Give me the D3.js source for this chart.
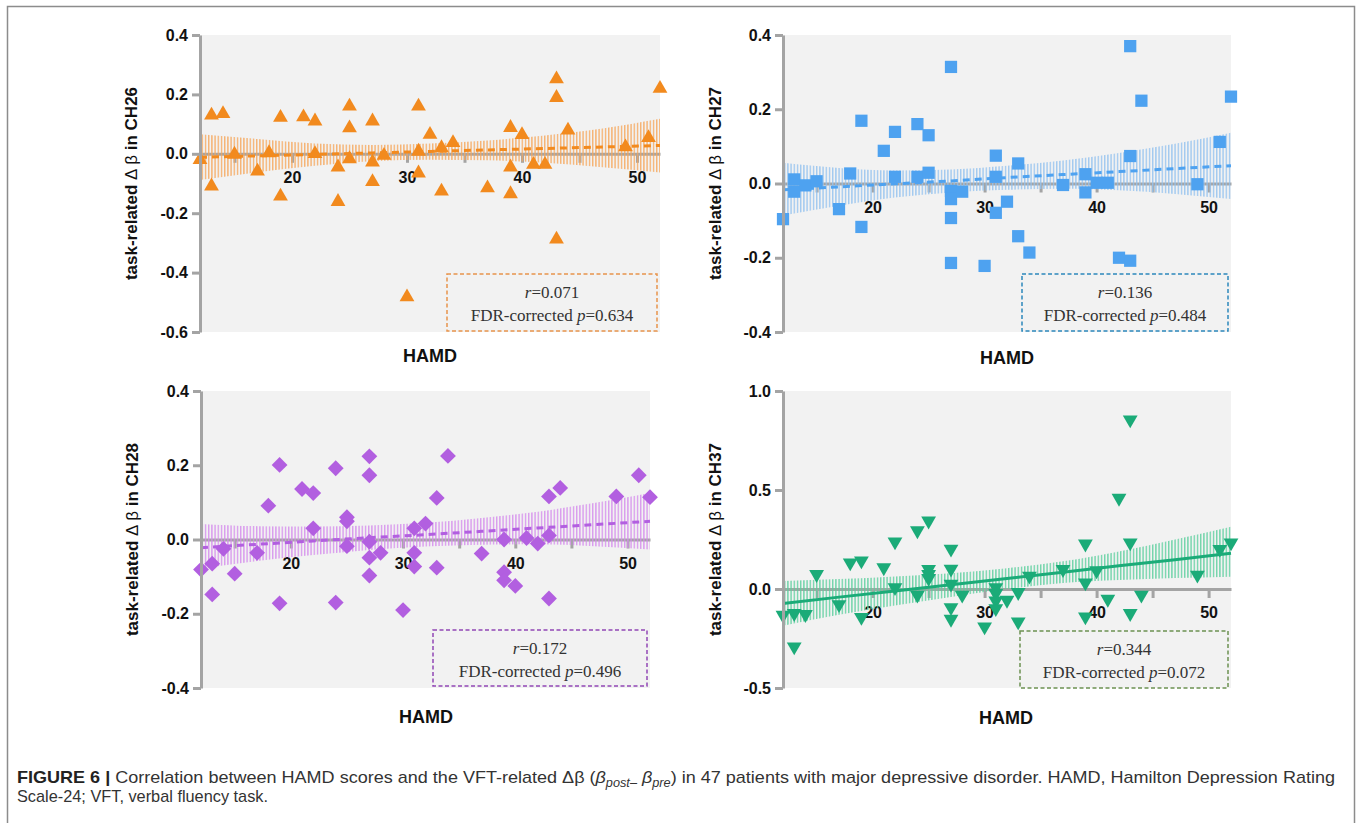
<!DOCTYPE html>
<html><head><meta charset="utf-8">
<script src="https://cdn.jsdelivr.net/npm/d3@7/dist/d3.min.js"></script>
<style>body{margin:0;background:#fff}svg{display:block}</style>
</head><body>
<svg id="c" width="1360" height="823"></svg>
<script>
// ---------- data ----------
const channels = ["CH26", "CH27", "CH28", "CH37"];
const xDomain = [12, 52];
const xTickValues = [15, 20, 25, 30, 35, 40, 45, 50];
const xTickLabels = [20, 30, 40, 50];
const bandX = [12, 17, 22, 27, 32, 37, 42, 47, 52];

const ch26X = [12,13,13,14,15,17,18,19,19,21,22,22,24,24,25,25,25,27,27,27,28,30,31,31,31,32,33,33,34,37,39,39,39,40,41,42,43,43,43,44,49,51,52];
const ch26Y = [-0.020,0.130,-0.109,0.135,-0.002,-0.059,0.003,0.122,-0.143,0.124,0.110,0.000,-0.045,-0.161,0.160,0.087,-0.017,0.110,-0.028,-0.094,-0.006,-0.482,0.160,0.008,-0.065,0.065,0.020,-0.126,0.037,-0.115,0.088,-0.045,-0.135,0.064,-0.036,-0.036,0.252,0.189,-0.288,0.079,0.023,0.054,0.220];
const ch26Fit = [-0.012,-0.007,-0.002,0.003,0.008,0.013,0.018,0.023,0.028];
const ch26Hi = [0.066,0.050,0.035,0.030,0.035,0.045,0.062,0.085,0.118];
const ch26Lo = [-0.088,-0.062,-0.040,-0.025,-0.020,-0.022,-0.030,-0.045,-0.063];
const ch26YTicks = [0.4, 0.2, 0.0, -0.2, -0.4, -0.6];

const ch27X = [12,13,13,14,15,17,18,19,19,21,22,22,24,24,25,25,27,27,27,27,27,28,30,31,31,31,32,33,33,34,37,39,39,40,41,42,43,43,43,44,49,51,52];
const ch27Y = [-0.096,0.011,-0.022,-0.005,0.006,-0.069,0.027,0.169,-0.117,0.088,0.139,0.018,0.160,0.018,0.130,0.029,0.314,-0.020,-0.042,-0.093,-0.214,-0.022,-0.222,0.075,0.018,-0.079,-0.049,0.054,-0.142,-0.186,-0.004,0.025,-0.024,0.002,0.002,-0.200,0.370,0.074,-0.208,0.223,-0.002,0.112,0.234];
const ch27Fit = [-0.017,-0.009,-0.001,0.007,0.016,0.024,0.032,0.040,0.048];
const ch27Hi = [0.056,0.042,0.035,0.038,0.048,0.062,0.082,0.107,0.137];
const ch27Lo = [-0.086,-0.060,-0.038,-0.024,-0.017,-0.014,-0.018,-0.028,-0.042];
const ch27YTicks = [0.4, 0.2, 0.0, -0.2, -0.4];

const ch28X = [12,13,13,14,15,17,18,19,19,21,22,22,24,24,25,25,25,27,27,27,27,27,28,30,31,31,31,32,33,33,34,37,39,39,39,40,41,42,43,43,43,44,49,51,52];
const ch28Y = [-0.081,-0.065,-0.148,-0.025,-0.092,-0.036,0.091,0.201,-0.172,0.136,0.125,0.030,0.192,-0.170,0.060,0.049,-0.018,0.224,0.173,-0.006,-0.049,-0.097,-0.036,-0.190,0.030,-0.036,-0.073,0.043,0.112,-0.076,0.225,-0.038,0.000,-0.088,-0.110,-0.125,0.004,-0.011,0.116,0.011,-0.159,0.139,0.116,0.173,0.114];
const ch28Fit = [-0.022,-0.013,-0.004,0.005,0.013,0.022,0.031,0.040,0.049];
const ch28Hi = [0.042,0.036,0.035,0.038,0.045,0.058,0.075,0.098,0.125];
const ch28Lo = [-0.078,-0.058,-0.042,-0.028,-0.019,-0.014,-0.013,-0.018,-0.027];
const ch28YTicks = [0.4, 0.2, 0.0, -0.2, -0.4];

const ch37X = [12,13,13,14,15,17,18,19,19,21,22,22,24,24,25,25,25,25,27,27,27,27,27,28,30,31,31,31,31,32,33,33,34,37,39,39,39,40,41,42,43,43,43,44,49,51,52];
const ch37Y = [-0.132,-0.123,-0.292,-0.128,0.074,-0.078,0.133,0.143,-0.143,0.108,0.239,0.008,0.295,-0.030,0.344,0.100,0.074,0.054,0.202,0.101,0.025,-0.093,-0.152,-0.030,-0.191,0.008,-0.022,-0.059,-0.098,-0.056,-0.017,-0.165,0.066,0.099,0.228,0.032,-0.140,0.093,-0.051,0.459,0.855,0.234,-0.123,-0.030,0.071,0.201,0.234];
const ch37Fit = [-0.073,-0.041,-0.010,0.022,0.053,0.085,0.117,0.148,0.180];
const ch37Hi = [0.040,0.050,0.063,0.080,0.105,0.140,0.190,0.250,0.315];
const ch37Lo = [-0.185,-0.130,-0.083,-0.040,0.000,0.030,0.045,0.055,0.062];
const ch37YTicks = [1.0, 0.5, 0.0, -0.5];

const statR = ["0.071", "0.136", "0.172", "0.344"];
const statP = ["0.634", "0.484", "0.496", "0.072"];

// ---------- layout / style ----------
const svg = d3.select("#c");
svg.append("rect").attr("x", 7.5).attr("y", 6.5).attr("width", 1347).attr("height", 860)
  .attr("fill", "none").attr("stroke", "#8c8c8c").attr("stroke-width", 1.5);

const panels = [
  {xs: ch26X, ys: ch26Y, fit: ch26Fit, hi: ch26Hi, lo: ch26Lo, yTicks: ch26YTicks, yDom: [-0.6, 0.4],
   x0: 200, x1: 660, yTop: 35, yBot: 332, sym: d3.symbolTriangle, rot: 0, size: 95,
   col: "#f28a1e", band: "#f6a75c", box: "#e8944c", dashed: true,
   bx: 447, by: 274, bw: 210, bh: 57, tx: 133, hx: 430, hy: 362},
  {xs: ch27X, ys: ch27Y, fit: ch27Fit, hi: ch27Hi, lo: ch27Lo, yTicks: ch27YTicks, yDom: [-0.4, 0.4],
   x0: 783, x1: 1231, yTop: 35, yBot: 332, sym: d3.symbolSquare, rot: 0, size: 150,
   col: "#4ea2f0", band: "#93c2ef", box: "#2c88bc", dashed: true,
   bx: 1022, by: 274, bw: 206, bh: 57, tx: 717, hx: 1007, hy: 364},
  {xs: ch28X, ys: ch28Y, fit: ch28Fit, hi: ch28Hi, lo: ch28Lo, yTicks: ch28YTicks, yDom: [-0.4, 0.4],
   x0: 201, x1: 650, yTop: 391, yBot: 688, sym: d3.symbolSquare, rot: 45, size: 125,
   col: "#b25fe0", band: "#d58cec", box: "#9147b5", dashed: true,
   bx: 433, by: 630, bw: 214, bh: 56, tx: 134, hx: 426, hy: 723},
  {xs: ch37X, ys: ch37Y, fit: ch37Fit, hi: ch37Hi, lo: ch37Lo, yTicks: ch37YTicks, yDom: [-0.5, 1.0],
   x0: 783, x1: 1231, yTop: 391, yBot: 688, sym: d3.symbolTriangle, rot: 180, size: 95,
   col: "#1bab78", band: "#5ccf9e", box: "#6c9152", dashed: false,
   bx: 1020, by: 631, bw: 208, bh: 57, tx: 717, hx: 1006, hy: 724}
];

const axisGray = "#a4a4a4";
const defs = svg.append("defs");

panels.forEach((P, i) => {
  const g = svg.append("g");
  const x = d3.scaleLinear().domain(xDomain).range([P.x0, P.x1]);
  const y = d3.scaleLinear().domain(P.yDom).range([P.yBot, P.yTop]);

  // plot background
  g.append("rect").attr("x", P.x0).attr("y", P.yTop)
    .attr("width", P.x1 - P.x0).attr("height", P.yBot - P.yTop).attr("fill", "#f2f2f2");

  // x axis along zero line
  const xAxis = d3.axisBottom(x).tickValues(xTickValues).tickSize(9).tickSizeOuter(0)
    .tickPadding(9).tickFormat(d => xTickLabels.includes(d) ? String(d) : "");
  const xg = g.append("g").attr("transform", `translate(0,${y(0)})`).call(xAxis);
  xg.select(".domain").attr("stroke", axisGray).attr("stroke-width", 3);
  xg.selectAll(".tick line").attr("stroke", axisGray).attr("stroke-width", 3);
  xg.selectAll(".tick text").attr("font-family", "Liberation Sans, Arial, sans-serif")
    .attr("font-weight", "bold").attr("font-size", 16).attr("fill", "#111");

  // confidence band (vertical hatching)
  const pid = "hatch" + i;
  const pat = defs.append("pattern").attr("id", pid).attr("patternUnits", "userSpaceOnUse")
    .attr("width", 3.2).attr("height", 6);
  pat.append("rect").attr("x", 0).attr("y", 0).attr("width", 1.4).attr("height", 6)
    .attr("fill", P.band).attr("fill-opacity", 0.85);
  const bandData = bandX.map((bx, k) => ({x: bx, lo: P.lo[k], hi: P.hi[k], f: P.fit[k]}));
  g.append("path").datum(bandData)
    .attr("d", d3.area().curve(d3.curveMonotoneX).x(d => x(d.x)).y0(d => y(d.lo)).y1(d => y(d.hi)))
    .attr("fill", `url(#${pid})`);

  // fitted line
  g.append("path").datum(bandData)
    .attr("d", d3.line().x(d => x(d.x)).y(d => y(d.f)))
    .attr("fill", "none").attr("stroke", P.col).attr("stroke-width", 3)
    .attr("stroke-dasharray", P.dashed ? "7,5" : null);

  // markers
  const sym = d3.symbol().type(P.sym).size(P.size);
  g.append("g").selectAll("path").data(P.xs.map((v, k) => [v, P.ys[k]])).join("path")
    .attr("d", sym)
    .attr("transform", d => `translate(${x(d[0])},${y(d[1])}) rotate(${P.rot})`)
    .attr("fill", P.col);

  // y axis
  const yAxis = d3.axisLeft(y).tickValues(P.yTicks).tickSize(8).tickSizeOuter(0)
    .tickPadding(4).tickFormat(d => d.toFixed(1));
  const yg = g.append("g").attr("transform", `translate(${P.x0},0)`).call(yAxis);
  yg.select(".domain").attr("stroke", axisGray).attr("stroke-width", 3);
  yg.selectAll(".tick line").attr("stroke", axisGray).attr("stroke-width", 3);
  yg.selectAll(".tick text").attr("font-family", "Liberation Sans, Arial, sans-serif")
    .attr("font-weight", "bold").attr("font-size", 16).attr("fill", "#111");

  // y title
  const ty = (P.yTop + P.yBot) / 2;
  const yt = g.append("text").attr("transform", `translate(${P.tx},${ty}) rotate(-90)`)
    .attr("text-anchor", "middle").attr("dominant-baseline", "middle")
    .attr("font-family", "Liberation Sans, Arial, sans-serif").attr("font-size", 17)
    .attr("font-weight", "bold").attr("fill", "#111");
  yt.append("tspan").text("task-related ");
  yt.append("tspan").attr("font-weight", "normal").text("\u0394 \u03B2");
  yt.append("tspan").text(" in " + channels[i]);

  // x title
  g.append("text").attr("x", P.hx).attr("y", P.hy).attr("text-anchor", "middle")
    .attr("font-family", "Liberation Sans, Arial, sans-serif").attr("font-size", 18)
    .attr("font-weight", "bold").attr("fill", "#111").text("HAMD");

  // stats box
  g.append("rect").attr("x", P.bx).attr("y", P.by).attr("width", P.bw).attr("height", P.bh)
    .attr("fill", "none").attr("stroke", P.box).attr("stroke-width", 1.5)
    .attr("stroke-dasharray", "4,2.5");
  const cx = P.bx + P.bw / 2;
  const t1 = g.append("text").attr("x", cx).attr("y", P.by + 24).attr("text-anchor", "middle")
    .attr("font-family", "Liberation Serif, Times New Roman, serif").attr("font-size", 17).attr("fill", "#333");
  t1.append("tspan").attr("font-style", "italic").text("r");
  t1.append("tspan").text("=" + statR[i]);
  const t2 = g.append("text").attr("x", cx).attr("y", P.by + 47).attr("text-anchor", "middle")
    .attr("font-family", "Liberation Serif, Times New Roman, serif").attr("font-size", 17).attr("fill", "#333");
  t2.append("tspan").text("FDR-corrected ");
  t2.append("tspan").attr("font-style", "italic").text("p");
  t2.append("tspan").text("=" + statP[i]);
});

// ---------- caption ----------
const cap1 = svg.append("text").attr("x", 17).attr("y", 783)
  .attr("font-family", "Liberation Sans, Arial, sans-serif").attr("font-size", 17).attr("fill", "#333")
  .attr("textLength", 1318).attr("lengthAdjust", "spacingAndGlyphs");
cap1.append("tspan").attr("font-weight", "bold").attr("fill", "#222").text("FIGURE 6 |");
cap1.append("tspan").text(" Correlation between HAMD scores and the VFT-related \u0394\u03B2 (");
cap1.append("tspan").attr("font-style", "italic").text("\u03B2");
cap1.append("tspan").attr("font-style", "italic").attr("font-size", 12).attr("dy", 4).text("post\u2013");
cap1.append("tspan").attr("dy", -4).text(" ");
cap1.append("tspan").attr("font-style", "italic").text("\u03B2");
cap1.append("tspan").attr("font-style", "italic").attr("font-size", 12).attr("dy", 4).text("pre");
cap1.append("tspan").attr("dy", -4).text(") in 47 patients with major depressive disorder. HAMD, Hamilton Depression Rating");

svg.append("text").attr("x", 17).attr("y", 802)
  .attr("font-family", "Liberation Sans, Arial, sans-serif").attr("font-size", 17).attr("fill", "#333")
  .attr("textLength", 251).attr("lengthAdjust", "spacingAndGlyphs")
  .text("Scale-24; VFT, verbal fluency task.");
</script>
</body></html>
